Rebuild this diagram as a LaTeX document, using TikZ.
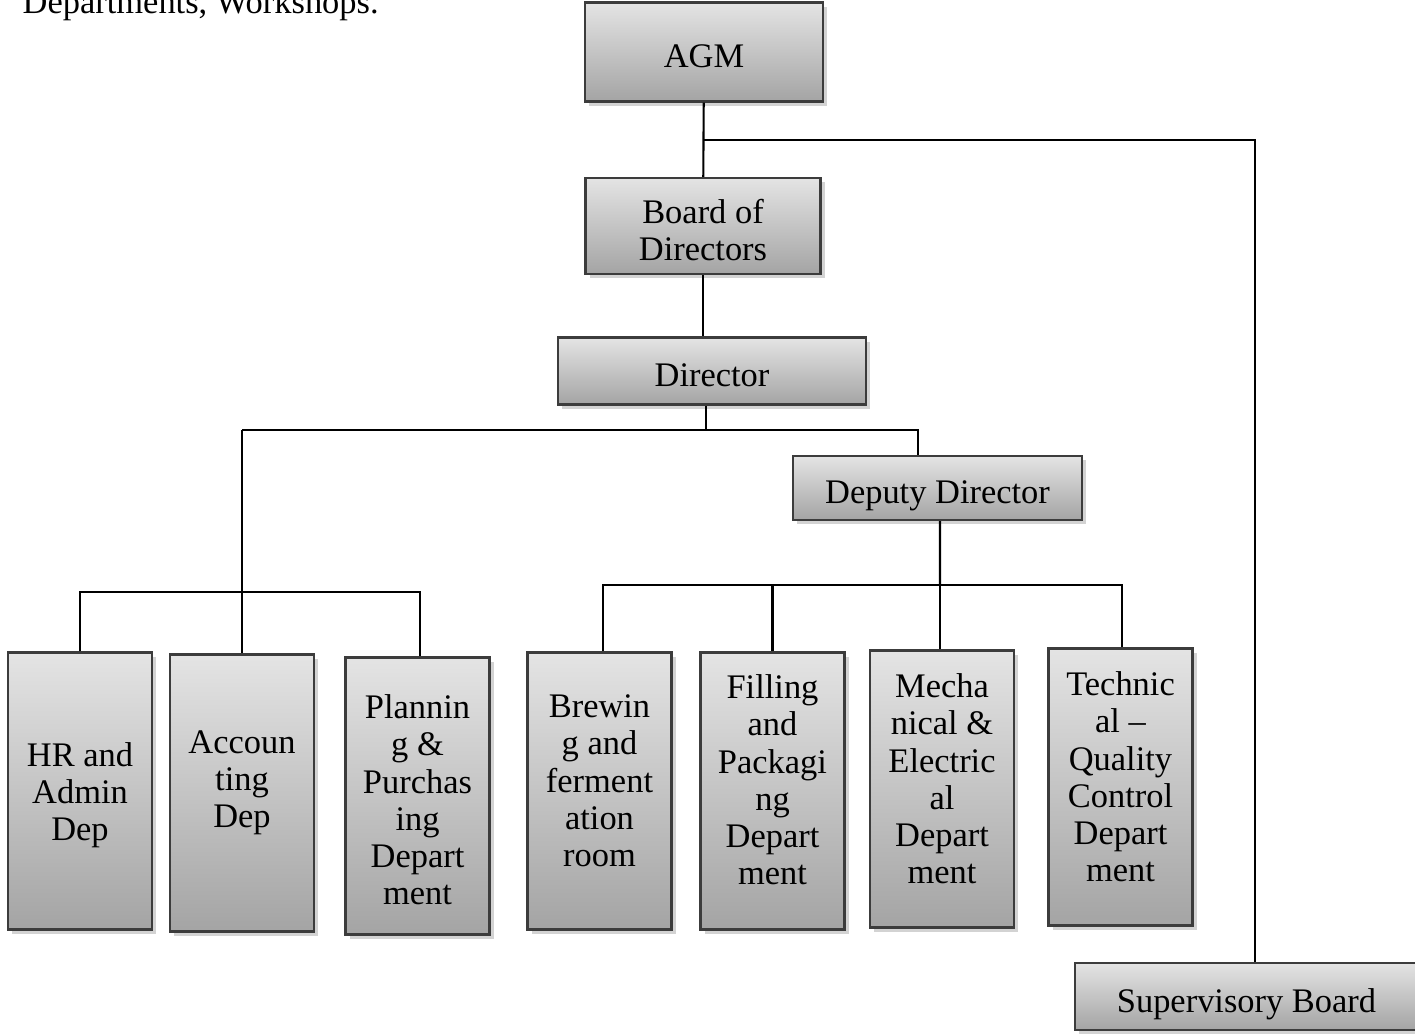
\documentclass[tikz,border=0pt]{standalone}
\usepackage{fontspec}
\setmainfont{Liberation Serif}
\usepackage{xcolor}
\definecolor{Box Light}{HTML}{E4E4E4}
\definecolor{Box Dark}{HTML}{A4A4A4}
\definecolor{Box Line}{HTML}{3C3C3C}
\colorlet{cTop}{Box Light}
\colorlet{cBot}{Box Dark}
\usepackage{tikz}
\usetikzlibrary{calc, shadows, positioning}
\tikzset{
	node distance = 1.5em,
	line width = .6pt,
	font = \fontsize{9.8pt}{10.6pt}\selectfont,
	unit/.style={
		draw=Box Line,
		rectangle,
		top color=cTop,
		bottom color=cBot,
		line width=.6pt,
		inner sep=0pt,
		drop shadow={shadow xshift=1.2pt, shadow yshift=-1.2pt, opacity=.35}
	},
	title/.style={
		unit,
		text height=.95em,
		text depth=.06em
	},
	dept/.style={
		unit,
		minimum width=1.44cm,
		minimum height=2.77cm
	},
	depttext/.style={
		align=center,
		inner sep=0pt
	},
	link/.style={
		line width=.6pt
	}
}

\begin{document}
\begin{tikzpicture}
		\useasboundingbox (0,0) rectangle (14.15,10.34);
		\clip (0,0) rectangle (14.15,10.34);

		\node[anchor=base west, inner sep=0pt] (intro) at (.22,10.20) {Departments, Workshops.};

		\node[title, minimum width=2.38cm, minimum height=.99cm] (agm) at (7.04,9.82) {AGM};
		\node[unit, minimum width=2.35cm, minimum height=.96cm] (board) at (7.03,8.08) {};
		\node[depttext] (boardt) at ([yshift=-.04cm]board.center) {Board of\\Directors};
		\node[title, minimum width=3.08cm, minimum height=.67cm] (dir) at (7.12,6.63) {Director};
		\node[title, minimum width=2.89cm, minimum height=.64cm] (dep) at (9.375,5.46) {Deputy Director};
		\node[title, minimum width=3.43cm, minimum height=.67cm] (sup) at (12.465,.375) {Supervisory Board};

		\node[dept] (hr) at (.80,2.43) {};
		\node[dept] (acc) at (2.42,2.41) {};
		\node[dept] (plan) at (4.175,2.38) {};
		\node[dept] (brew) at (5.995,2.43) {};
		\node[dept] (fill) at (7.725,2.43) {};
		\node[dept] (mech) at (9.42,2.45) {};
		\node[dept] (tech) at (11.205,2.47) {};

		\node[depttext] (hrt) at ([yshift=-.04cm]hr.center) {HR and\\Admin\\Dep};
		\node[depttext] (acct) at ([yshift=.10cm]acc.center) {Accoun\\ting\\Dep};
		\node[depttext] (plant) at ([yshift=-.04cm]plan.center) {Plannin\\g \&\\Purchas\\ing\\Depart\\ment};
		\node[depttext] (brewt) at ([yshift=.10cm]brew.center) {Brewin\\g and\\ferment\\ation\\room};
		\node[depttext] (fillt) at ([yshift=.11cm]fill.center) {Filling\\and\\Packagi\\ng\\Depart\\ment};
		\node[depttext] (mecht) at ([yshift=.10cm]mech.center) {Mecha\\nical \&\\Electric\\al\\Depart\\ment};
		\node[depttext] (techt) at ([yshift=.10cm]tech.center) {Technic\\al --\\Quality\\Control\\Depart\\ment};

		% junctions
		\coordinate (j1) at (7.03,8.94);
		\coordinate (j2) at (7.06,6.04);
		\coordinate (lbar) at (2.42,4.42);
		\coordinate (rbar) at (9.40,4.49);

		\draw[link] (agm) -- (board);
		\draw[link] (j1) -| ([xshift=.085cm]sup.north);
		\draw[link] (board) -- (board |- dir.north);
		\draw[link] (j2 |- dir.south) -- (j2);
		\draw[link] (acc.north |- j2) -- (j2) -| ([xshift=-.195cm]dep.north);
		\draw[link] (acc.north |- j2) -- (acc.north);
		\draw[link] (hr.north) |- (lbar) -| ([xshift=.025cm]plan.north);

		\draw[link] ([xshift=.025cm]dep.south) -- (rbar);
		\draw[link] ([xshift=.035cm]brew.north) |- (rbar) -| ([xshift=.015cm]tech.north);
		\draw[link] (fill.north) -- (fill.north |- rbar);
		\draw[link] ([xshift=-.02cm]mech.north) -- ([xshift=-.02cm]mech.north |- rbar);
	\end{tikzpicture}
\end{document}
